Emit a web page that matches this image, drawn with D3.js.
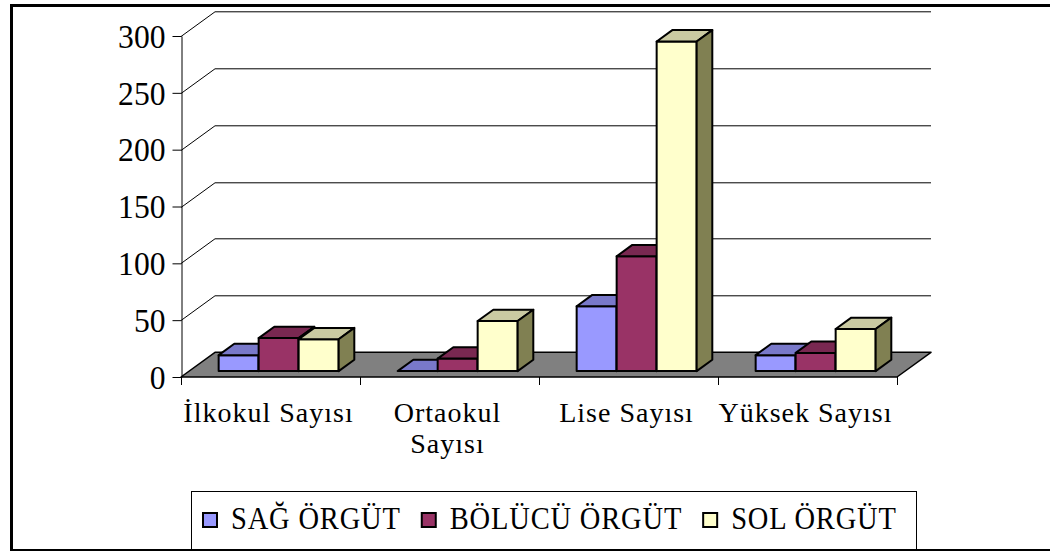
<!DOCTYPE html>
<html>
<head>
<meta charset="utf-8">
<script src="https://cdn.jsdelivr.net/npm/d3@7"></script>
<style>
  body { margin: 0; background: #fff; }
  svg { display: block; }
  text { font-family: "Liberation Serif", "Times New Roman", serif; fill: #000; }
</style>
</head>
<body>
<script>
// data
var categories = ['İlkokul Sayısı', 'Ortaokul Sayısı', 'Lise Sayısı', 'Yüksek Sayısı'];
var categoryLines = [['İlkokul Sayısı'], ['Ortaokul', 'Sayısı'], ['Lise Sayısı'], ['Yüksek Sayısı']];
var seriesNames = ['SAĞ ÖRGÜT', 'BÖLÜCÜ ÖRGÜT', 'SOL ÖRGÜT'];
var sagValues = [14, 0, 57, 14];
var bolucuValues = [29, 11, 101, 16];
var solValues = [28, 44, 290, 37];
var seriesColors = ['#9999FF', '#993366', '#FFFFCC'];
var yTicks = [0, 50, 100, 150, 200, 250, 300];

var seriesValues = [sagValues, bolucuValues, solValues];

var W = 1050, H = 551;
var x0 = 181, x1 = 897, yBase = 377, yTop = 36;
var depthX = 34, depthY = -24.7;     // floor / wall depth
var zFront = 0.24, zBack = 0.70;     // bars sit in the middle of the floor

var svg = d3.select('body').append('svg')
    .attr('width', W)
    .attr('height', H);

var x = d3.scaleBand().domain(categories).range([x0, x1]);
var xs = d3.scaleBand().domain(seriesNames)
    .range([0, x.bandwidth()])
    .paddingInner(0)
    .paddingOuter(0.7375);
var y = d3.scaleLinear().domain([0, 300]).range([yBase, yTop]);

// outer frame
svg.append('rect').attr('x', 10).attr('y', 4).attr('width', 1040).attr('height', 3).attr('fill', '#000');
svg.append('rect').attr('x', 10).attr('y', 4).attr('width', 3).attr('height', 547).attr('fill', '#000');
svg.append('rect').attr('x', 10).attr('y', 549).attr('width', 1040).attr('height', 2).attr('fill', '#000');

// walls: grid lines on the side wall and back wall
svg.append('g')
    .attr('class', 'grid')
  .selectAll('path')
  .data(yTicks.filter(function(d) { return d > 0; }))
  .enter()
  .append('path')
    .attr('fill', 'none')
    .attr('stroke', '#000')
    .attr('stroke-width', 1)
    .attr('d', function(d) {
      var yy = Math.round(y(d)) + 0.5;
      return 'M' + x0 + ',' + yy +
             'L' + (x0 + depthX) + ',' + (yy + depthY) +
             'L' + (x1 + depthX) + ',' + (yy + depthY);
    });

// floor
svg.append('path')
    .attr('fill', '#808080')
    .attr('stroke', '#000')
    .attr('stroke-width', 1.5)
    .attr('stroke-linejoin', 'round')
    .attr('d', 'M' + x0 + ',' + yBase +
               'L' + x1 + ',' + yBase +
               'L' + (x1 + depthX) + ',' + (yBase + depthY) +
               'L' + (x0 + depthX) + ',' + (yBase + depthY) + 'Z');

// y axis
var yAxis = d3.axisLeft(y)
    .tickValues(yTicks)
    .tickSize(9)
    .tickSizeOuter(0)
    .tickPadding(7);

var yG = svg.append('g')
    .attr('transform', 'translate(' + (x0 + 0.5) + ',0)')
    .call(yAxis);
yG.select('.domain').attr('stroke', '#000');
yG.selectAll('.tick line').attr('stroke', '#000');
yG.selectAll('.tick text')
    .style('font-family', '"Liberation Serif", serif')
    .style('font-size', '34px')
    .attr('fill', '#000')
    .attr('dy', '0.33em')
    .attr('transform', 'translate(-16,0) scale(0.93,1) translate(16,0)');

// category ticks under the floor
svg.append('g')
  .selectAll('line')
  .data(categories.map(function(c) { return x(c); }).concat([x1]))
  .enter()
  .append('line')
    .attr('x1', function(d) { return Math.round(d) + 0.5; })
    .attr('x2', function(d) { return Math.round(d) + 0.5; })
    .attr('y1', yBase)
    .attr('y2', yBase + 8)
    .attr('stroke', '#000');

// category labels
var labelSel = svg.append('g')
  .selectAll('text')
  .data(categories)
  .enter()
  .append('text')
    .attr('text-anchor', 'middle')
    .style('font-size', '28px')
    .style('letter-spacing', '1px')
    .attr('transform', function(d) { return 'translate(' + (x(d) + x.bandwidth() / 2 - 2) + ',422)'; });

labelSel.selectAll('tspan')
  .data(function(d, i) { return categoryLines[i]; })
  .enter()
  .append('tspan')
    .attr('x', 0)
    .attr('y', function(d, i) { return i * 31; })
    .text(function(d) { return d; });

// bars
var bars = [];
categories.forEach(function(c, i) {
  seriesNames.forEach(function(s, j) {
    bars.push({ cat: c, series: s, value: seriesValues[j][i], color: seriesColors[j] });
  });
});

var fdx = depthX * zFront, fdy = depthY * zFront;
var bdx = depthX * (zBack - zFront), bdy = depthY * (zBack - zFront);

var barSel = svg.append('g')
    .attr('class', 'bars')
  .selectAll('g')
  .data(bars)
  .enter()
  .append('g')
    .attr('stroke', '#000')
    .attr('stroke-width', 2)
    .attr('stroke-linejoin', 'round');

function geom(d) {
  var bx = x(d.cat) + xs(d.series) + fdx;
  var w = xs.bandwidth();
  var yb = yBase + fdy;
  var yt = y(d.value) + fdy;
  return { bx: bx, w: w, yb: yb, yt: yt };
}

barSel.append('rect')
    .attr('x', function(d) { return geom(d).bx; })
    .attr('y', function(d) { return geom(d).yt; })
    .attr('width', function(d) { return geom(d).w; })
    .attr('height', function(d) { var g = geom(d); return g.yb - g.yt; })
    .attr('fill', function(d) { return d.color; });

barSel.append('path')
    .attr('fill', function(d) { return d3.color(d.color).darker(0.65); })
    .attr('d', function(d) {
      var g = geom(d);
      return 'M' + g.bx + ',' + g.yt +
             'L' + (g.bx + bdx) + ',' + (g.yt + bdy) +
             'L' + (g.bx + g.w + bdx) + ',' + (g.yt + bdy) +
             'L' + (g.bx + g.w) + ',' + g.yt + 'Z';
    });

barSel.append('path')
    .attr('fill', function(d) { var c = d3.rgb(d.color); return d3.rgb(c.r * 0.5, c.g * 0.5, c.b * 0.4); })
    .attr('d', function(d) {
      var g = geom(d);
      return 'M' + (g.bx + g.w) + ',' + g.yt +
             'L' + (g.bx + g.w + bdx) + ',' + (g.yt + bdy) +
             'L' + (g.bx + g.w + bdx) + ',' + (g.yb + bdy) +
             'L' + (g.bx + g.w) + ',' + g.yb + 'Z';
    });

// legend
svg.append('rect')
    .attr('x', 191.5).attr('y', 491.5)
    .attr('width', 725).attr('height', 58)
    .attr('fill', '#fff')
    .attr('stroke', '#000');

var lx = 202;
seriesNames.forEach(function(s, j) {
  svg.append('rect')
      .attr('x', lx + 1).attr('y', 513)
      .attr('width', 14).attr('height', 14)
      .attr('fill', seriesColors[j])
      .attr('stroke', '#000')
      .attr('stroke-width', 2);
  var tx = lx + 29;
  var t = svg.append('text')
      .attr('x', 0)
      .attr('y', 0)
      .attr('transform', 'translate(' + tx + ',529) scale(0.92,1)')
      .style('font-size', '31px')
      .style('letter-spacing', '0.9px')
      .text(s);
  lx = tx + t.node().getComputedTextLength() * 0.92 + 20;
});
</script>
</body>
</html>
